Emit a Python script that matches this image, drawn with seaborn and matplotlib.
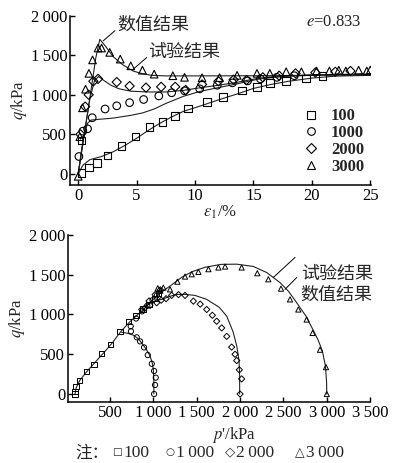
import numpy as np
import matplotlib
matplotlib.use('Agg')
import matplotlib.pyplot as plt
import seaborn as sns
from matplotlib.lines import Line2D

# ---- 上图 q - ε1 数据 (试验点) ----
eps_100 = [0.3, 0.3, 0.9, 1.6, 2.5, 3.7, 4.9, 6.1, 7.2, 8.3, 9.4, 11.0, 12.4, 14.0, 15.3, 16.4, 17.8, 19.5, 20.9]
q_100 = [10, 420, 80, 140, 235, 350, 475, 590, 655, 730, 825, 905, 975, 1055, 1100, 1145, 1175, 1205, 1240]

eps_1000 = [0.06, 0.4, 0.8, 1.2, 2.3, 3.3, 4.4, 5.6, 6.9, 8.0, 9.1, 10.4, 11.9, 13.2, 14.5, 15.6, 17.0, 18.5]
q_1000 = [220, 540, 570, 710, 820, 860, 900, 940, 985, 1025, 1050, 1075, 1120, 1150, 1175, 1200, 1220, 1240]

eps_2000 = [0.2, 0.6, 0.9, 1.3, 1.7, 3.3, 4.4, 5.8, 7.1, 8.3, 9.2, 10.6, 12.0, 13.3, 14.4, 15.8, 17.2, 18.6, 20.3, 22.0, 23.3]
q_2000 = [500, 850, 1000, 1170, 1200, 1160, 1110, 1090, 1100, 1100, 1060, 1130, 1170, 1190, 1185, 1220, 1240, 1270, 1280, 1290, 1300]

eps_3000 = [0.0, 0.14, 0.37, 0.63, 0.92, 1.23, 1.7, 2.0, 2.7, 3.6, 4.5, 5.5, 6.5, 8.1, 9.1, 10.6, 12.1, 13.6, 15.3, 16.4,
            17.8, 19.1, 20.4, 21.5, 22.3, 22.9, 24.0, 24.7, 25.0]
q_3000 = [-30, 470, 835, 1070, 1270, 1440, 1590, 1590, 1535, 1450, 1365, 1310, 1260, 1240, 1220, 1215, 1216, 1245, 1270, 1270,
          1290, 1290, 1300, 1300, 1310, 1300, 1310, 1300, 1313]

# ---- 上图 数值结果 ----
ln_eps_100 = [0, 0.4, 1.0, 2.0, 3.0, 4.0, 5.0, 6.0, 7.0, 8.0, 9.0, 10.5, 12.0, 13.5, 15.0, 16.5, 18.0, 20.0, 22.0, 25.0]
ln_q_100 = [0, 110, 180, 220, 280, 360, 450, 550, 640, 720, 790, 860, 935, 1005, 1080, 1130, 1170, 1210, 1235, 1245]

ln_eps_1000 = [0, 0.4, 0.8, 1.1, 1.8, 3.0, 4.5, 5.5, 6.5, 7.5, 9.0, 10.5, 12.0, 13.5, 15.5, 17.5, 20, 22.5, 25]
ln_q_1000 = [0, 420, 640, 680, 690, 705, 740, 770, 820, 890, 980, 1045, 1090, 1135, 1200, 1230, 1250, 1255, 1260]

ln_eps_2000 = [0, 0.5, 1.0, 1.4, 1.75, 2.2, 2.8, 3.5, 4.5, 6.0, 7.5, 9.0, 10.5, 12.0, 13.5, 15.5, 18, 21, 25]
ln_q_2000 = [0, 480, 950, 1180, 1230, 1180, 1120, 1075, 1045, 1035, 1035, 1055, 1090, 1120, 1155, 1210, 1240, 1255, 1260]

ln_eps_3000 = [0, 0.5, 1.0, 1.5, 1.85, 2.3, 3.0, 3.8, 4.7, 5.5, 6.3, 7.5, 10, 15, 20, 25]
ln_q_3000 = [0, 480, 960, 1460, 1700, 1620, 1480, 1380, 1300, 1265, 1245, 1238, 1238, 1240, 1245, 1250]

# ---- 下图 q - p' 数据 (试验点) ----
p_100 = [96, 96, 108, 146, 230, 315, 403, 507, 615, 711, 800, 880, 950, 1010, 1060]
pq_100 = [0, 30, 92, 169, 283, 375, 506, 624, 785, 907, 990, 1070, 1130, 1200, 1260]

p_1000 = [1008, 1019, 1027, 1008, 981, 935, 892, 846, 808, 741, 738, 800, 870, 930, 990, 1040]
pq_1000 = [0, 114, 206, 290, 380, 490, 586, 662, 713, 789, 852, 950, 1040, 1110, 1180, 1240]

p_2000 = [2000, 2018, 1991, 1961, 1942, 1903, 1846, 1788, 1730, 1680, 1615, 1540, 1461, 1365, 1290, 1210, 1146, 1090,
          1038, 961, 900, 865, 950, 1020, 1080]
pq_2000 = [0, 190, 304, 421, 500, 590, 725, 831, 915, 990, 1063, 1130, 1168, 1240, 1250, 1240, 1199, 1180,
           1148, 1114, 1080, 1063, 1170, 1250, 1310]

p_3000 = [3000, 2991, 2922, 2837, 2768, 2672, 2576, 2472, 2326, 2199, 2018, 1827, 1750, 1635, 1519, 1442, 1365, 1277,
          1192, 1115, 1080, 1050]
pq_3000 = [0, 338, 557, 768, 937, 1063, 1190, 1325, 1443, 1519, 1591, 1603, 1591, 1570, 1536, 1506, 1477, 1413,
           1316, 1338, 1300, 1330]

# ---- 下图 数值结果 ----
ln_p_100 = [96, 110, 150, 230, 320, 420, 520, 620, 720, 820, 920, 1020, 1080]
ln_pq_100 = [0, 80, 170, 280, 390, 510, 635, 780, 900, 1000, 1100, 1210, 1270]

ln_p_1000 = [1005, 1005, 1000, 985, 960, 920, 880, 830, 770, 700, 634]
ln_pq_1000 = [0, 150, 304, 400, 480, 560, 620, 690, 740, 765, 775]

ln_p_2000 = [1995, 1995, 1988, 1962, 1920, 1846, 1760, 1615, 1480, 1365, 1269, 1180, 1100, 1038]
ln_pq_2000 = [0, 220, 420, 600, 780, 979, 1090, 1190, 1240, 1253, 1253, 1225, 1190, 1180]

ln_p_3000 = [3000, 2998, 2985, 2950, 2900, 2845, 2760, 2653, 2560, 2461, 2307, 2153, 1961, 1780, 1600, 1450, 1330,
             1220, 1130, 1077]
ln_pq_3000 = [0, 150, 350, 540, 680, 800, 980, 1148, 1290, 1401, 1528, 1604, 1633, 1630, 1595, 1540, 1470,
              1380, 1310, 1266]

labels = ['100', '1000', '2000', '3000']
note_labels = ['100', '1\u2009000', '2\u2009000', '3\u2009000']
markers = ['s', 'o', 'D', '^']
note_symbols = ['\u25a1', '\u25cb', '\u25c7', '\u25b3']

sns.set_theme(style='ticks')
plt.rcParams['font.family'] = ['Liberation Serif', 'Noto Sans CJK SC', 'DejaVu Sans']
plt.rcParams['mathtext.fontset'] = 'stix'
plt.rcParams['axes.unicode_minus'] = False

fig = plt.figure(figsize=(3.98, 4.63), dpi=100)
ax1 = fig.add_axes([0.1759, 0.6004, 0.756, 0.366])
ax2 = fig.add_axes([0.1709, 0.1318, 0.759, 0.3607])

for ax in (ax1, ax2):
    ax.set_facecolor('white')
    for s in ['top', 'right']:
        ax.spines[s].set_visible(False)
    for s in ['left', 'bottom']:
        ax.spines[s].set_linewidth(1.1)
        ax.spines[s].set_color('black')
    ax.tick_params(direction='in', length=3.5, width=1.0, labelsize=12, colors='black', pad=2)

def fmt(v):
    # 千位用窄空格分隔
    s = '{:,}'.format(int(v))
    return s.replace(',', '\u2009')

# 上图
line_kw = dict(color='#222222', linewidth=0.8, sort=False, estimator=None, ax=ax1)
sns.lineplot(x=ln_eps_100, y=ln_q_100, **line_kw)
sns.lineplot(x=ln_eps_1000, y=ln_q_1000, **line_kw)
sns.lineplot(x=ln_eps_2000, y=ln_q_2000, **line_kw)
sns.lineplot(x=ln_eps_3000, y=ln_q_3000, **line_kw)

top_eps = [eps_100, eps_1000, eps_2000, eps_3000]
top_q = [q_100, q_1000, q_2000, q_3000]
for xs, ys, m in zip(top_eps, top_q, markers):
    sz = 22 if m == 'D' else 30
    sns.scatterplot(x=xs, y=ys, marker=m, s=sz, facecolors='none', edgecolors='black',
                    linewidth=0.8, ax=ax1, zorder=3)

ax1.set_xlim(-0.7, 25.05)
ax1.set_ylim(-140, 2000)
ax1.set_xticks([0, 5, 10, 15, 20, 25])
ax1.set_yticks([0, 500, 1000, 1500, 2000])
ax1.set_yticklabels([fmt(v) for v in [0, 500, 1000, 1500, 2000]])
ax1.set_xlabel(r'$\varepsilon_1$/%', fontsize=12, labelpad=0)
ax1.set_ylabel(r'$q$/kPa', fontsize=12, labelpad=1)
ax1.text(0.97, 0.96, r'$e$=0.833', transform=ax1.transAxes, ha='right', va='center', fontsize=12)

handles = [Line2D([], [], marker=m, linestyle='', markerfacecolor='none', markeredgecolor='black',
                  markersize=5.5 if m != 'D' else 4.8, markeredgewidth=0.8) for m in markers]
leg = ax1.legend(handles, labels, loc='lower right', bbox_to_anchor=(1.0, 0.02), frameon=False,
                 handletextpad=0.7, labelspacing=0.05, handlelength=1.0, borderaxespad=0,
                 prop={'size': 12, 'weight': 'bold', 'family': 'Liberation Serif'})

# 上图标注
ax1.plot([2.14, 3.15], [1681, 1809], color='black', lw=0.7)
ax1.text(3.35, 1880, '数值结果', fontsize=13, family=['Noto Sans CJK SC'], va='center', ha='left')
ax1.plot([4.71, 5.86], [1322, 1470], color='black', lw=0.7)
ax1.text(5.95, 1540, '试验结果', fontsize=13, family=['Noto Sans CJK SC'], va='center', ha='left')

# 下图
line_kw2 = dict(color='#222222', linewidth=0.8, sort=False, estimator=None, ax=ax2)
sns.lineplot(x=ln_p_100, y=ln_pq_100, **line_kw2)
sns.lineplot(x=ln_p_1000, y=ln_pq_1000, **line_kw2)
sns.lineplot(x=ln_p_2000, y=ln_pq_2000, **line_kw2)
sns.lineplot(x=ln_p_3000, y=ln_pq_3000, **line_kw2)

bot_p = [p_100, p_1000, p_2000, p_3000]
bot_q = [pq_100, pq_1000, pq_2000, pq_3000]
for xs, ys, m in zip(bot_p, bot_q, markers):
    sz = 10 if m == 'D' else 14
    sns.scatterplot(x=xs, y=ys, marker=m, s=sz, facecolors='none', edgecolors='black',
                    linewidth=0.7, ax=ax2, zorder=3)

ax2.set_xlim(15, 3500)
ax2.set_ylim(-100, 2000)
xt = [500, 1000, 1500, 2000, 2500, 3000, 3500]
ax2.set_xticks(xt)
ax2.set_xticklabels([fmt(v) for v in xt])
ax2.set_yticks([0, 500, 1000, 1500, 2000])
ax2.set_yticklabels([fmt(v) for v in [0, 500, 1000, 1500, 2000]])
ax2.set_xlabel(r"$p$'/kPa", fontsize=12, labelpad=0)
ax2.xaxis.set_label_coords(0.55, -0.135)
ax2.set_ylabel(r'$q$/kPa', fontsize=12, labelpad=1)

# 下图标注
ax2.plot([2383, 2634], [1465, 1718], color='black', lw=0.7)
ax2.plot([2518, 2653], [1316, 1465], color='black', lw=0.7)
ax2.text(2700, 1505, '试验结果', fontsize=13, family=['Noto Sans CJK SC'], va='center', ha='left')
ax2.text(2700, 1250, '数值结果', fontsize=13, family=['Noto Sans CJK SC'], va='center', ha='left')

# 注释行
fig.text(0.19, 0.022, '注：', fontsize=12, family=['Noto Sans CJK SC'], ha='left', va='center')
sym_x = [117, 170, 230, 300]
sym_size = [7.5, 7.5, 9.5, 9]
for xp, sym, lab, fs in zip(sym_x, note_symbols, note_labels, sym_size):
    fig.text(xp / 398, 0.023, sym, fontsize=fs, family=['DejaVu Sans'], ha='center', va='center')
    fig.text((xp + 6) / 398, 0.022, lab, fontsize=12.5, family=['Liberation Serif'], ha='left', va='center')

fig.savefig('out.png', dpi=100, facecolor='white')
